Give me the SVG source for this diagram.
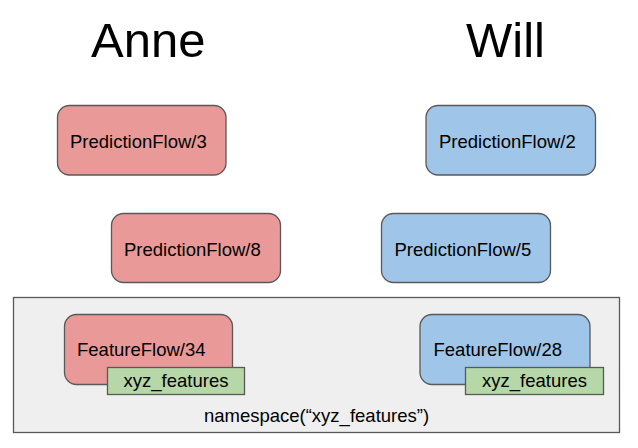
<svg xmlns="http://www.w3.org/2000/svg" width="638" height="448" viewBox="0 0 638 448">
<style>
text{font-family:"Liberation Sans",Arial,sans-serif;fill:#000}
.lbl{font-size:18.5px}
.title{font-size:49px}
.box{stroke:#595959;stroke-width:1.3}
.red{fill:#ea9999}
.blue{fill:#9fc5e8}
.green{fill:#b6d7a8}
.ns{fill:#efefef}
</style>
<rect width="638" height="448" fill="#fff"/>
<text class="title" x="91" y="57">Anne</text>
<text class="title" x="466" y="57">Will</text>
<g id="namespace">
<rect class="box ns" x="13.5" y="297.5" width="606" height="135"/>
<text class="lbl" x="316.5" y="421.5" text-anchor="middle">namespace(“xyz_features”)</text>
</g>
<g id="pf3">
<rect class="box red" x="57.5" y="105.5" width="168.5" height="69.5" rx="12"/>
<text class="lbl" x="70" y="147.5">PredictionFlow/3</text>
</g>
<g id="pf8">
<rect class="box red" x="111.5" y="213.5" width="169" height="69" rx="12"/>
<text class="lbl" x="124" y="255.5">PredictionFlow/8</text>
</g>
<g id="pf2">
<rect class="box blue" x="426" y="105.5" width="169.5" height="69.5" rx="12"/>
<text class="lbl" x="439" y="147.5">PredictionFlow/2</text>
</g>
<g id="pf5">
<rect class="box blue" x="381.5" y="213.5" width="169" height="69" rx="12"/>
<text class="lbl" x="394.5" y="255.5">PredictionFlow/5</text>
</g>
<g id="ff34">
<rect class="box red" x="64.5" y="314.5" width="168" height="70" rx="12"/>
<text class="lbl" x="77" y="356">FeatureFlow/34</text>
</g>
<g id="xyz1">
<rect class="box green" x="107.5" y="367.5" width="137" height="27"/>
<text class="lbl" x="176" y="387" text-anchor="middle">xyz_features</text>
</g>
<g id="ff28">
<rect class="box blue" x="420" y="314.5" width="170" height="70" rx="12"/>
<text class="lbl" x="433.5" y="356">FeatureFlow/28</text>
</g>
<g id="xyz2">
<rect class="box green" x="465.5" y="367.5" width="138" height="27"/>
<text class="lbl" x="534.5" y="387" text-anchor="middle">xyz_features</text>
</g>
<g id="connectors"></g>
</svg>
